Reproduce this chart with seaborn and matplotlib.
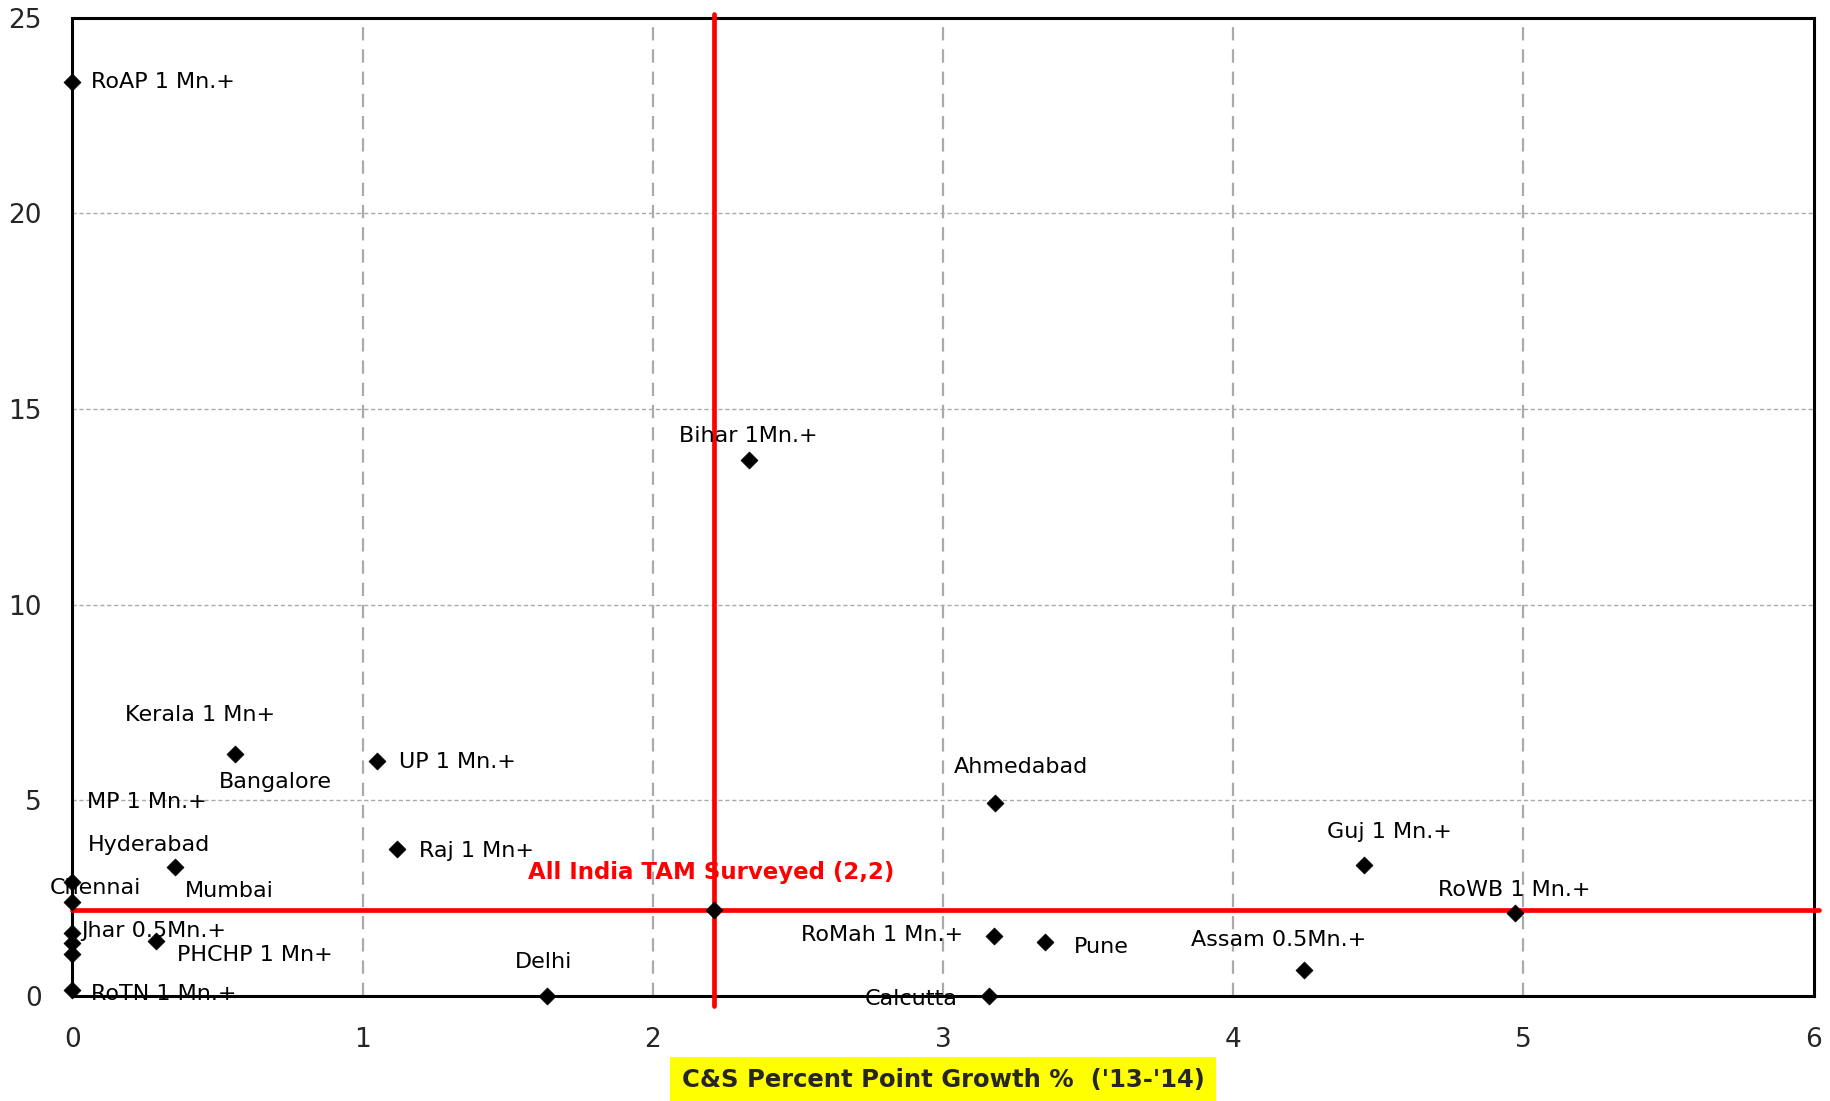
import matplotlib
matplotlib.use("Agg")
import matplotlib.pyplot as plt
import pandas as pd
import seaborn as sns

# markets, C&S percent point growth ('13-'14) vs second metric
MARKETS = [
    "RoAP 1 Mn.+", "Bihar 1Mn.+", "Kerala 1 Mn+", "Bangalore", "UP 1 Mn.+",
    "MP 1 Mn.+", "Hyderabad", "Raj 1 Mn+", "All India TAM Surveyed (2,2)",
    "Chennai", "Mumbai", "Jhar 0.5Mn.+", "PHCHP 1 Mn+", "RoTN 1 Mn.+",
    "Delhi", "Ahmedabad", "Guj 1 Mn.+", "RoWB 1 Mn.+", "RoMah 1 Mn.+",
    "Pune", "Assam 0.5Mn.+", "Calcutta",
]
GROWTH_X = [0.0, 2.33, 0.56, 0.0, 1.05, 0.0, 0.355, 1.12, 2.21, 0.0, 0.0, 0.0,
            0.29, 0.0, 1.635, 3.18, 4.45, 4.97, 3.175, 3.35, 4.245, 3.16]
VALUE_Y = [23.35, 13.7, 6.18, 1.06, 6.0, 1.35, 3.3, 3.75, 2.2, 2.9, 2.4, 1.6,
           1.4, 0.15, 0.0, 4.92, 3.34, 2.12, 1.52, 1.37, 0.66, 0.0]
X_TICKS = [0, 1, 2, 3, 4, 5, 6]
Y_TICKS = [0, 5, 10, 15, 20, 25]
AVG_X = 2.21
AVG_Y = 2.2

# label placement relative to each point (data units) and alignment
LABEL_OFFSETS = {
    "RoAP 1 Mn.+": (0.065, 0.0, "left"),
    "Bihar 1Mn.+": (0.0, 0.6, "center"),
    "Kerala 1 Mn+": (-0.12, 1.0, "center"),
    "Bangalore": (0.70, 4.4, "center"),
    "UP 1 Mn.+": (0.075, -0.03, "left"),
    "MP 1 Mn.+": (0.052, 3.6, "left"),
    "Hyderabad": (-0.09, 0.55, "center"),
    "Raj 1 Mn+": (0.075, -0.05, "left"),
    "All India TAM Surveyed (2,2)": (-0.01, 0.96, "center"),
    "Chennai": (0.08, -0.13, "center"),
    "Mumbai": (0.54, 0.28, "center"),
    "Jhar 0.5Mn.+": (0.032, 0.07, "left"),
    "PHCHP 1 Mn+": (0.072, -0.36, "left"),
    "RoTN 1 Mn.+": (0.064, -0.09, "left"),
    "Delhi": (-0.01, 0.87, "center"),
    "Ahmedabad": (0.09, 0.93, "center"),
    "Guj 1 Mn.+": (0.09, 0.84, "center"),
    "RoWB 1 Mn.+": (0.0, 0.59, "center"),
    "RoMah 1 Mn.+": (-0.385, 0.03, "center"),
    "Pune": (0.195, -0.12, "center"),
    "Assam 0.5Mn.+": (-0.09, 0.77, "center"),
    "Calcutta": (-0.27, -0.09, "center"),
}


def main() -> None:
    df = pd.DataFrame({"market": MARKETS, "growth": GROWTH_X, "value": VALUE_Y})

    sns.set_style("white")
    plt.rcParams["font.family"] = ["DejaVu Sans"]

    fig = plt.figure(figsize=(18.31, 11.01), dpi=100)
    ax = fig.add_axes([0.0395, 0.0954, 0.951, 0.8887])

    ax.vlines(X_TICKS[1:-1], 0, 25, colors="#aaaaaa", linestyles=(0, (6, 4)), linewidth=1.6, zorder=1)
    ax.hlines(Y_TICKS[1:-1], 0, 6, colors="#aaaaaa", linestyles=(0, (3, 2)), linewidth=1.0, zorder=1)

    sns.scatterplot(data=df, x="growth", y="value", marker="D", s=75, color="black",
                    edgecolor="black", linewidth=0.5, ax=ax, zorder=4, clip_on=False, legend=False)

    ax.plot([AVG_X, AVG_X], [-0.25, 25.1], color="red", linewidth=3.4, zorder=3, clip_on=False)
    ax.plot([0, 6.02], [AVG_Y, AVG_Y], color="red", linewidth=3.4, zorder=3, clip_on=False)

    for name, gx, vy in zip(MARKETS, GROWTH_X, VALUE_Y):
        dx, dy, ha = LABEL_OFFSETS[name]
        is_avg = name.startswith("All India")
        ax.text(gx + dx, vy + dy, name, ha=ha, va="center",
                fontsize=16.5 if is_avg else 16,
                color="red" if is_avg else "black",
                fontweight="bold" if is_avg else "normal", zorder=5)

    ax.set_xlim(0, 6)
    ax.set_ylim(0, 25)
    ax.set_xticks(X_TICKS)
    ax.set_yticks(Y_TICKS)
    ax.tick_params(axis="both", length=0, labelsize=19)
    ax.tick_params(axis="x", pad=22)
    ax.tick_params(axis="y", pad=22)
    for spine in ax.spines.values():
        spine.set_visible(True)
        spine.set_color("black")
        spine.set_linewidth(2.2)

    ax.set_xlabel("C&S Percent Point Growth %  ('13-'14)", fontsize=17.5, fontweight="bold",
                  labelpad=11,
                  bbox=dict(facecolor="#ffff00", edgecolor="none", pad=8))
    ax.set_ylabel("")

    fig.savefig("out.png", dpi=100)
    plt.close(fig)


if __name__ == "__main__":
    main()
